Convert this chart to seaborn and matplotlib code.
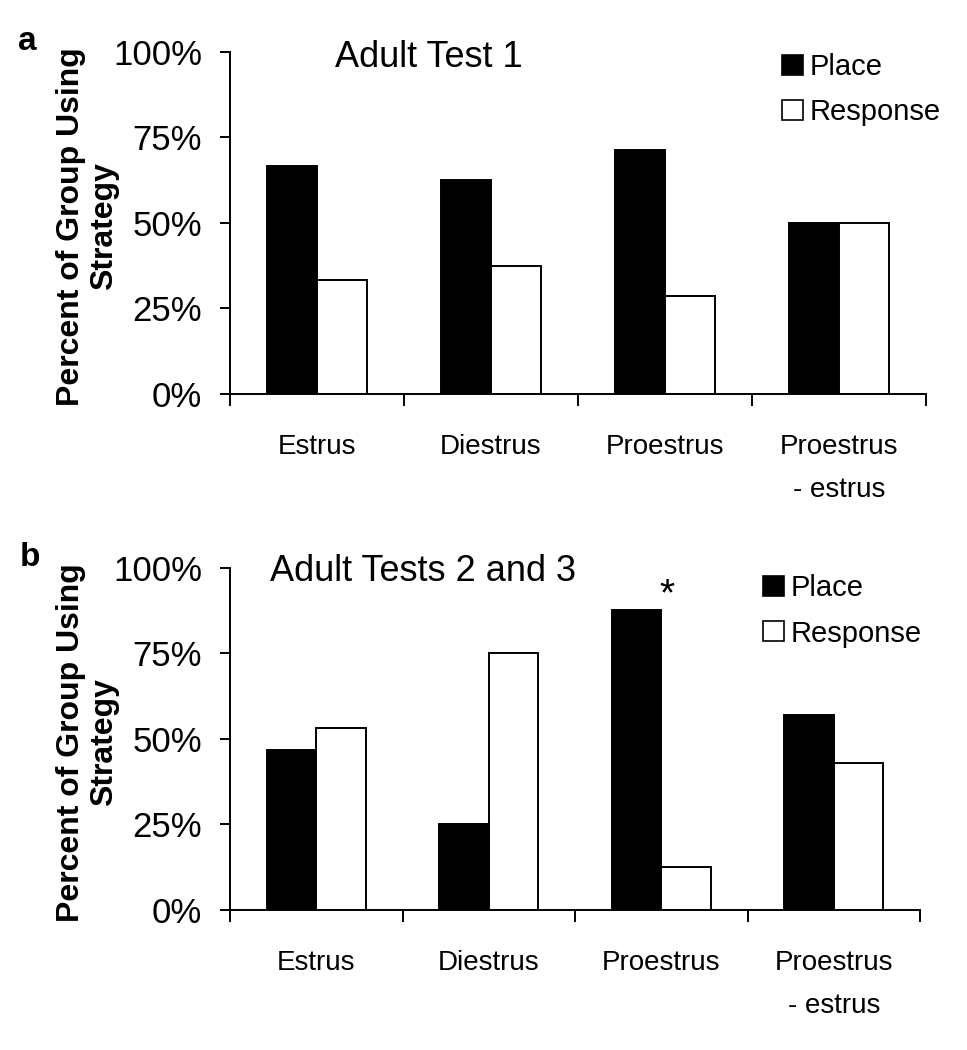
import numpy as np
import pandas as pd
import matplotlib
matplotlib.use("Agg")
import matplotlib.pyplot as plt
import seaborn as sns
from matplotlib import font_manager
from matplotlib.patches import Patch

# ---------------- data ----------------
categories = ["Estrus", "Diestrus", "Proestrus", "Proestrus\n- estrus"]
strategies = ["Place", "Response"]
place_a = [66.7, 62.5, 71.4, 50.0]
response_a = [33.3, 37.5, 28.6, 50.0]
place_b = [46.7, 25.0, 87.5, 57.1]
response_b = [53.3, 75.0, 12.5, 42.9]
yticks = [0, 25, 50, 75, 100]
ytick_labels = ["0%", "25%", "50%", "75%", "100%"]
title_a = "Adult Test 1"
title_b = "Adult Tests 2 and 3"
ylabel = "Percent of Group Using\nStrategy"
palette = {"Place": "black", "Response": "white"}

# ---------------- style ----------------
sns.set_style("ticks")
names = {f.name for f in font_manager.fontManager.ttflist}
base = "Liberation Sans" if "Liberation Sans" in names else "DejaVu Sans"
plt.rcParams["font.family"] = [base, "DejaVu Sans"]
for k in ["text.color", "axes.labelcolor", "xtick.color", "ytick.color", "axes.edgecolor"]:
    plt.rcParams[k] = "black"

W, H = 967, 1050
fig = plt.figure(figsize=(W / 100, H / 100), dpi=100)
ax_a = fig.add_axes([230 / W, 1 - 394 / H, 696 / W, 342.3 / H])
ax_b = fig.add_axes([230 / W, 1 - 910 / H, 690 / W, 342.3 / H])


def draw(ax, place, response, title, tx, ty, leg_xy, label_x):
    df = pd.DataFrame({
        "Stage": categories * 2,
        "Strategy": ["Place"] * len(categories) + ["Response"] * len(categories),
        "Percent": list(place) + list(response),
    })
    sns.barplot(data=df, x="Stage", y="Percent", hue="Strategy",
                order=categories, hue_order=strategies, palette=palette,
                saturation=1, width=0.575, edgecolor="black", linewidth=1.4,
                errorbar=None, legend=False, ax=ax)
    ax.set_xlim(-0.5, len(categories) - 0.5)
    ax.set_ylim(0, 100)
    ax.set_yticks(yticks)
    ax.set_yticklabels(ytick_labels, fontsize=25)
    ax.tick_params(axis="y", length=7.2, width=1.4, pad=13, direction="out", colors="black")
    ax.set_xticks(range(len(categories)))
    ax.set_xticklabels(categories, fontsize=20, linespacing=1.87)
    ax.set_xticks(np.arange(-0.5, len(categories), 1.0), minor=True)
    ax.tick_params(axis="x", which="major", length=0, pad=28.5)
    ax.tick_params(axis="x", which="minor", length=8.6, width=1.4, direction="out", colors="black")
    for s in ["top", "right"]:
        ax.spines[s].set_visible(False)
    for s in ["left", "bottom"]:
        ax.spines[s].set_linewidth(1.4)
        ax.spines[s].set_color("black")
    ax.set_xlabel("")
    ax.set_ylabel(ylabel, fontsize=23, fontweight="bold", linespacing=1.15)
    ax.yaxis.set_label_coords(label_x, 0.49)
    ax.text(tx, ty, title, transform=ax.transAxes, fontsize=26, ha="left", va="baseline")
    handles = [Patch(facecolor=palette[k], edgecolor="black", linewidth=1.2) for k in strategies]
    ax.legend(handles, strategies, loc="upper left",
              bbox_to_anchor=(leg_xy[0] / W, 1 - leg_xy[1] / H),
              bbox_transform=fig.transFigure, frameon=False, fontsize=21,
              handlelength=0.72, handleheight=0.69, handletextpad=0.25,
              labelspacing=0.6, borderpad=0, borderaxespad=0)


draw(ax_a, place_a, response_a, title_a, 0.151, 0.956, (781.7, 53), (119 - 230) / 696)
draw(ax_b, place_b, response_b, title_b, 0.058, 0.961, (762.7, 574), (119 - 230) / 690)

# significance marker above Proestrus (panel b)
ax_b.annotate("*", xy=(2, place_b[2]), xytext=(4.5, 4), textcoords="offset points",
              ha="center", va="baseline", fontsize=28)

fig.text(18 / W, 1 - 50 / H, "a", fontsize=24, fontweight="bold", va="baseline")
fig.text(20 / W, 1 - 566 / H, "b", fontsize=24, fontweight="bold", va="baseline")

fig.savefig("out.png", dpi=100)
